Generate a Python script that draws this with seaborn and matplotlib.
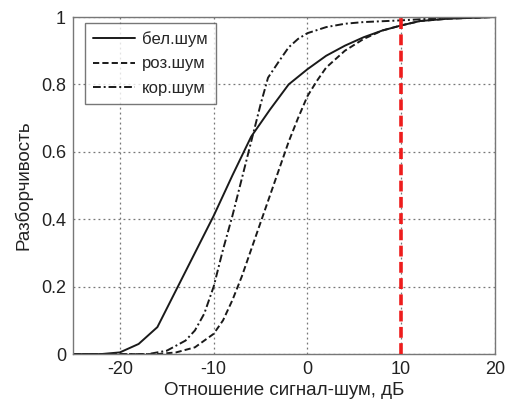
import matplotlib
matplotlib.use("Agg")
import matplotlib.pyplot as plt
import seaborn as sns

# ---------------------------------------------------------------------------
# Data
# ---------------------------------------------------------------------------

snr_white = [-25, -22, -20, -18, -16, -14, -12, -10, -8, -6, -4, -2, 0,
             2, 4, 6, 8, 10, 12, 15, 20]
intel_white = [0, 0, 0.005, 0.03, 0.08, 0.19, 0.30, 0.41, 0.53, 0.645, 0.725,
               0.80, 0.845, 0.885, 0.915, 0.94, 0.96, 0.975, 0.988, 0.995, 1.0]

snr_pink = [-25, -16, -14, -12, -10, -9, -8, -7, -6, -5, -4, -3, -2, -1, 0,
            1, 2, 4, 6, 8, 10, 12, 15, 20]
intel_pink = [0, 0, 0.005, 0.02, 0.06, 0.10, 0.16, 0.23, 0.31, 0.39, 0.47,
              0.55, 0.63, 0.70, 0.765, 0.81, 0.85, 0.90, 0.935, 0.96, 0.975,
              0.988, 0.995, 1.0]

snr_corr = [-25, -17, -15, -14, -13, -12, -11, -10, -9, -8, -7, -6, -5, -4.2,
            -3, -2, -1, 0, 2, 4, 6, 10, 15, 20]
intel_corr = [0, 0, 0.01, 0.025, 0.04, 0.07, 0.12, 0.20, 0.31, 0.41, 0.52,
              0.63, 0.74, 0.82, 0.87, 0.91, 0.935, 0.952, 0.97, 0.98, 0.985,
              0.99, 0.998, 1.0]

SERIES = [
    ("бел.шум", snr_white, intel_white, "-"),
    ("роз.шум", snr_pink, intel_pink, (0, (3.2, 1.6))),
    ("кор.шум", snr_corr, intel_corr, (0, (4, 1.5, 1, 1.5))),
]

threshold_snr = 10
x_ticks = [-20, -10, 0, 10, 20]
y_ticks = [0, 0.2, 0.4, 0.6, 0.8, 1]
y_tick_labels = ["0", "0.2", "0.4", "0.6", "0.8", "1"]

# ---------------------------------------------------------------------------
# Plot
# ---------------------------------------------------------------------------

sns.set_style("white")
plt.rcParams["font.family"] = ["Liberation Sans", "DejaVu Sans"]
plt.rcParams["axes.unicode_minus"] = False

fig = plt.figure(figsize=(5.09, 4.01), dpi=100)
ax = fig.add_axes([0.1434, 0.117, 0.829, 0.8406])

for label, xs, ys, ls in SERIES:
    sns.lineplot(x=xs, y=ys, ax=ax, color="#1a1a1a", linestyle=ls,
                 linewidth=1.4, label=label)

ax.plot([threshold_snr, threshold_snr], [0, 1], color="#ee1c1c",
        linestyle=(0, (3, 1.5)), linewidth=2.6, zorder=3)

ax.set_xlim(-25, 20)
ax.set_ylim(0, 1)
ax.set_xticks(x_ticks)
ax.set_yticks(y_ticks)
ax.set_yticklabels(y_tick_labels)
ax.tick_params(axis="both", labelsize=13, colors="#222222", direction="in",
               length=3, width=0.6, pad=5)
ax.grid(True, linestyle=(0, (1.5, 2.5)), color="#777777", linewidth=0.9)

for sp in ax.spines.values():
    sp.set_color("#777777")
    sp.set_linewidth(1.0)

ax.set_xlabel("Отношение сигнал-шум, дБ", fontsize=13.5, color="#222222",
              labelpad=3)
ax.set_ylabel("Разборчивость", fontsize=13.5, color="#222222", labelpad=6)

leg = ax.legend(loc="upper left", fontsize=12, frameon=True, fancybox=False,
                handlelength=2.5, handletextpad=0.45, borderpad=0.5,
                labelspacing=0.55, borderaxespad=0,
                bbox_to_anchor=(0.028, 0.982))
leg.get_frame().set_edgecolor("#555555")
leg.get_frame().set_linewidth(1.0)

fig.savefig("out.png", dpi=100)
plt.close(fig)
